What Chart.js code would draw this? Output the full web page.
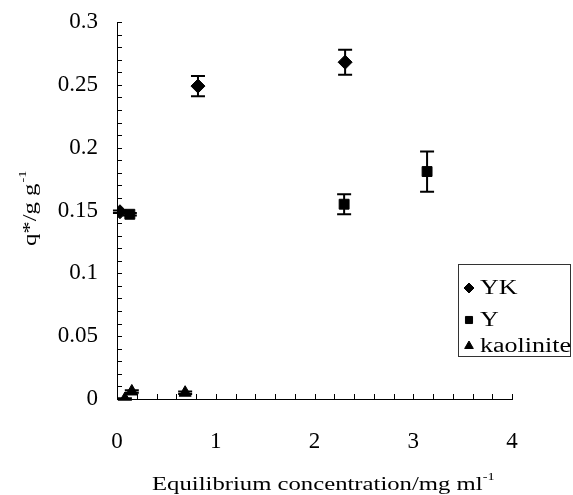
<!DOCTYPE html>
<html lang="en">
<head>
    <meta charset="UTF-8">
    <title>Adsorption isotherm</title>
    <style>
        body {
            margin: 0;
            padding: 0;
            background-color: #fff;
        }
        .container {
            width: 573px;
            height: 495px;
        }
    </style>
    <script src="https://cdn.jsdelivr.net/npm/chart.js"></script>
</head>
<body>
    <div class="container">
        <canvas id="isoChart" width="573" height="495"></canvas>
    </div>
    <script>
        // Data (x: mg/ml, y: g/g, err: half error bar)
        const ykX = [0.03, 0.82, 2.31];
        const ykY = [0.149, 0.249, 0.268];
        const ykErr = [0.001, 0.008, 0.010];

        const yX = [0.13, 2.30, 3.14];
        const yY = [0.147, 0.155, 0.181];
        const yErr = [0.001, 0.008, 0.016];

        const kaoX = [0.08, 0.15, 0.69];
        const kaoY = [0.0, 0.006, 0.005];
        const kaoErr = [0.0005, 0.001, 0.001];

        const seriesNames = ['YK', 'Y', 'kaolinite'];
        const markerStyles = ['rectRot', 'rect', 'triangle'];

        const xTicks = [0, 1, 2, 3, 4];
        const yTicks = [0, 0.05, 0.1, 0.15, 0.2, 0.25, 0.3];

        const SERIF = '"Liberation Serif", "Times New Roman", serif';
        const STRETCH = 1.3; // the scanned figure's text is wide

        function points(xs, ys, errs) {
            return xs.map((x, i) => ({ x: x, y: ys[i], err: errs[i] }));
        }

        function makeSet(label, data, style, radius) {
            return {
                label: label,
                data: data,
                pointStyle: style,
                pointRadius: radius,
                pointHoverRadius: radius,
                backgroundColor: '#000',
                borderColor: '#000',
                borderWidth: 1,
                showLine: false
            };
        }

        // write text stretched horizontally, left aligned at x
        function wideText(ctx, txt, x, y) {
            ctx.save();
            ctx.translate(x, y);
            ctx.scale(STRETCH, 1);
            ctx.fillText(txt, 0, 0);
            ctx.restore();
            return ctx.measureText(txt).width * STRETCH;
        }

        // error bars, minor ticks, axis titles and the boxed legend
        const extras = {
            id: 'extras',
            afterDatasetsDraw(chart) {
                const ctx = chart.ctx;
                const xs = chart.scales.x;
                const ys = chart.scales.y;
                ctx.save();
                ctx.strokeStyle = '#000';
                ctx.lineWidth = 2;

                chart.data.datasets.forEach(ds => {
                    ds.data.forEach(p => {
                        const px = xs.getPixelForValue(p.x);
                        const top = ys.getPixelForValue(p.y + p.err);
                        const bot = ys.getPixelForValue(p.y - p.err);
                        ctx.beginPath();
                        ctx.moveTo(px, top);
                        ctx.lineTo(px, bot);
                        ctx.moveTo(px - 7, top);
                        ctx.lineTo(px + 7, top);
                        ctx.moveTo(px - 7, bot);
                        ctx.lineTo(px + 7, bot);
                        ctx.stroke();
                    });
                });

                // inward ticks
                ctx.lineWidth = 1;
                const x0 = xs.getPixelForValue(0);
                const y0 = ys.getPixelForValue(0);
                ctx.beginPath();
                for (let i = 1; i <= 30; i++) {
                    const py = Math.round(ys.getPixelForValue(i / 100)) + 0.5;
                    ctx.moveTo(x0, py);
                    ctx.lineTo(x0 + 5, py);
                }
                for (let i = 1; i <= 20; i++) {
                    const px = Math.round(xs.getPixelForValue(i * 0.2)) + 0.5;
                    ctx.moveTo(px, y0);
                    ctx.lineTo(px, y0 - 5);
                }
                ctx.stroke();

                // x title
                ctx.fillStyle = '#000';
                ctx.textAlign = 'left';
                ctx.textBaseline = 'alphabetic';
                ctx.font = '19px ' + SERIF;
                const w = wideText(ctx, 'Equilibrium concentration/mg ml', 152, 490);
                ctx.font = '11px ' + SERIF;
                wideText(ctx, '-1', 152 + w, 480);

                // y title (rotated)
                ctx.save();
                ctx.translate(36, 246);
                ctx.rotate(-Math.PI / 2);
                ctx.font = '19px ' + SERIF;
                const yw = wideText(ctx, 'q*/g g', 0, 0);
                ctx.font = '11px ' + SERIF;
                wideText(ctx, '-1', yw + 1, -10);
                ctx.restore();

                // legend box
                ctx.lineWidth = 1;
                ctx.strokeStyle = '#333';
                ctx.strokeRect(458.5, 264.5, 112, 92);
                ctx.font = '20px ' + SERIF;
                ctx.textBaseline = 'middle';
                const rows = [288, 320, 346];
                seriesNames.forEach((name, i) => {
                    ctx.fillStyle = '#000';
                    ctx.strokeStyle = '#000';
                    Chart.helpers.drawPoint(ctx, {
                        pointStyle: markerStyles[i],
                        radius: 5,
                        rotation: 0,
                        borderWidth: 1
                    }, 469, rows[i]);
                    wideText(ctx, name, 480, rows[i] + 1);
                });
                ctx.restore();
            }
        };

        const config = {
            type: 'scatter',
            data: {
                datasets: [
                    makeSet('YK', points(ykX, ykY, ykErr), markerStyles[0], 7),
                    makeSet('Y', points(yX, yY, yErr), markerStyles[1], 7),
                    makeSet('kaolinite', points(kaoX, kaoY, kaoErr), markerStyles[2], 7)
                ]
            },
            options: {
                responsive: false,
                animation: false,
                layout: {
                    padding: { top: 22, right: 61, left: 0, bottom: 0 }
                },
                scales: {
                    x: {
                        type: 'linear',
                        min: 0,
                        max: 4,
                        afterFit: s => { s.height = 96; s.paddingLeft = 0; s.paddingRight = 0; },
                        afterBuildTicks: s => { s.ticks = xTicks.map(v => ({ value: v })); },
                        grid: { display: false, drawTicks: false },
                        border: { display: true, color: '#000', width: 1 },
                        ticks: {
                            color: '#000',
                            padding: 29,
                            font: { family: SERIF, size: 23 }
                        }
                    },
                    y: {
                        type: 'linear',
                        min: 0,
                        max: 0.3,
                        afterFit: s => { s.width = 117; s.paddingTop = 0; s.paddingBottom = 0; },
                        afterBuildTicks: s => { s.ticks = yTicks.map(v => ({ value: v })); },
                        grid: { display: false, drawTicks: false },
                        border: { display: true, color: '#000', width: 1 },
                        ticks: {
                            color: '#000',
                            padding: 19,
                            font: { family: SERIF, size: 23 },
                            callback: v => String(Math.round(v * 100) / 100)
                        }
                    }
                },
                plugins: {
                    legend: { display: false },
                    tooltip: { enabled: false }
                }
            },
            plugins: [extras]
        };

        new Chart(document.getElementById('isoChart'), config);
    </script>
</body>
</html>
